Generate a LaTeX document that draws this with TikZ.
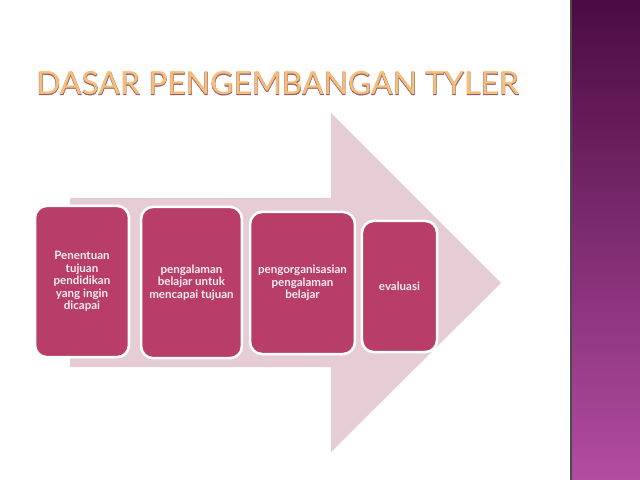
\documentclass[tikz,border=0pt]{standalone}
\usepackage{fontspec}
\usepackage{xcolor}
\setmainfont{Lato}
\newfontfamily\titlefont{Lato}
\newfontfamily\titleedgefont{Lato}[FakeBold=1.5]
\newfontfamily\boxfont{Lato Bold}
\definecolor{stepfill}{HTML}{B83D68}
\definecolor{arrowfill}{HTML}{E6CDD5}
\definecolor{steptext}{HTML}{FBEFF3}
\definecolor{titlefill}{HTML}{F8BE78}
\definecolor{titleedge}{HTML}{8C5E6E}
\definecolor{stripTop}{HTML}{4A0C40}
\definecolor{stripBot}{HTML}{B34CA2}
\newcommand{\titletxt}{DASAR PENGEMBANGAN TYLER}

\begin{document}
\begin{tikzpicture}[
  x=0.025cm, y=-0.025cm,
  stepbox/.style={draw=white, line width=1.8pt, fill=stepfill, rounded corners=0.3cm,
    text=steptext, font=\boxfont\fontsize{8.2}{8.8}\selectfont, align=center, inner sep=2pt},
  heading/.style={font=\fontsize{22.7}{24}\selectfont, inner sep=0pt, anchor=base west},
]
  \useasboundingbox (0,0) rectangle (640,480);
  \fill[white] (0,0) rectangle (640,480);

  % Side strip
  \shade[top color=stripTop, bottom color=stripBot] (571,0) rectangle (640,480);
  \draw[black!70, line width=0.8pt] (571,0) -- (571,480);

  % Title
  \node[heading] (title) at (36,95)
    {\rlap{\titleedgefont\color{titleedge}\titletxt}{\titlefont\color{titlefill}\titletxt}};

  % Big arrow
  \fill[arrowfill] (70,198) -- (331,198) -- (331,113) -- (501,283)
    -- (331,452) -- (331,367) -- (70,367) -- cycle;

  % Steps
  \node[stepbox, minimum width=2.35cm, minimum height=3.78cm] (goal) at (82,281.5)
    {Penentuan\\tujuan\\pendidikan\\yang ingin\\dicapai};
  \node[stepbox, minimum width=2.52cm, minimum height=3.78cm] (exp) at (191.5,282.5)
    {pengalaman\\belajar untuk\\mencapai tujuan};
  \node[stepbox, minimum width=2.62cm, minimum height=3.55cm] (org) at (302.5,283)
    {pengorganisasian\\pengalaman\\belajar};
  \node[stepbox, minimum width=1.88cm, minimum height=3.28cm] (eval) at (399.5,286.5)
    {evaluasi};
\end{tikzpicture}
\end{document}
